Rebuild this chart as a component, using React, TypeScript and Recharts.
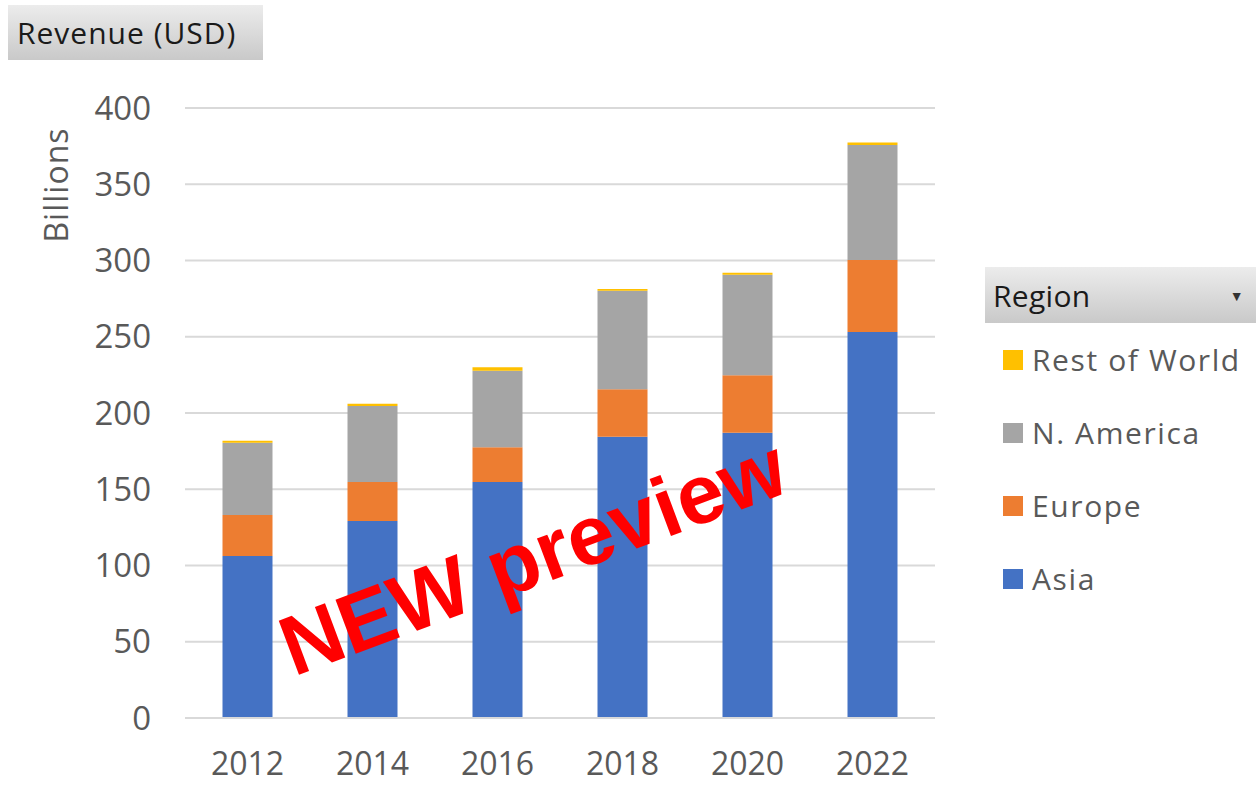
import React from 'react';
import { BarChart, Bar, XAxis, YAxis, CartesianGrid } from 'recharts';

const years = ['2012', '2014', '2016', '2018', '2020', '2022'];
const asia = [106.2, 129.2, 154.8, 184.5, 187, 253.1];
const europe = [26.9, 25.6, 22.7, 31, 37.7, 47.2];
const nAmerica = [47.4, 49.8, 50.2, 64.7, 66, 75.4];
const restOfWorld = [1.3, 1.5, 2.3, 1.1, 1.3, 1.6];
const yTicks = [0, 50, 100, 150, 200, 250, 300, 350, 400];

const series = [
	{ key: 'asia', name: 'Asia', color: '#4472C4' },
	{ key: 'europe', name: 'Europe', color: '#ED7D31' },
	{ key: 'nAmerica', name: 'N. America', color: '#A5A5A5' },
	{ key: 'restOfWorld', name: 'Rest of World', color: '#FFC000' },
];

const data = years.map((year, i) => ({
	year,
	asia: asia[i],
	europe: europe[i],
	nAmerica: nAmerica[i],
	restOfWorld: restOfWorld[i],
}));

const FONT = '"Open Sans", "Liberation Sans", sans-serif';
const headerBg = 'linear-gradient(to bottom, #ececec, #c9c9c9)';

// pivot-style legend: header button, then items top-down (stack order reversed)
function RegionLegend() {
	const items = [...series].reverse();
	return (
		<div style={{ position: 'absolute', left: 985, top: 267, width: 271, fontFamily: FONT }}>
			<div
				style={{
					height: 56,
					background: headerBg,
					display: 'flex',
					alignItems: 'center',
					justifyContent: 'space-between',
					padding: '0 12px 0 8px',
					fontSize: 30,
					letterSpacing: 0.3,
					color: '#1a1a1a',
				}}
			>
				<span>Region</span>
				<span style={{ fontSize: 14, color: '#333' }}>▼</span>
			</div>
			{items.map((s) => (
				<div
					key={s.key}
					style={{
						display: 'flex',
						alignItems: 'center',
						height: 73,
						paddingLeft: 18,
						fontSize: 30,
						letterSpacing: 1.6,
						color: '#595959',
						whiteSpace: 'nowrap',
					}}
				>
					<span style={{ width: 20, height: 20, background: s.color, marginRight: 9, display: 'inline-block' }} />
					{s.name}
				</div>
			))}
		</div>
	);
}

export default function App() {
	return (
		<div style={{ position: 'absolute', left: 0, top: 0, width: 1256, height: 785, background: '#fff', overflow: 'hidden' }}>
			<div
				style={{
					position: 'absolute',
					left: 8,
					top: 5,
					width: 255,
					height: 55,
					background: headerBg,
					fontFamily: FONT,
					fontSize: 30,
					letterSpacing: 1,
					color: '#1a1a1a',
					display: 'flex',
					alignItems: 'center',
					paddingLeft: 9,
					boxSizing: 'border-box',
					whiteSpace: 'nowrap',
				}}
			>
				Revenue (USD)
			</div>
			<BarChart
				width={1256}
				height={785}
				data={data}
				margin={{ top: 108, right: 321, left: 0, bottom: 0 }}
				barCategoryGap="30%"
				style={{ position: 'absolute', left: 0, top: 0, fontFamily: FONT }}
			>
				<CartesianGrid vertical={false} stroke="#d9d9d9" strokeWidth={2} />
				<XAxis
					dataKey="year"
					axisLine={{ stroke: '#d9d9d9', strokeWidth: 2 }}
					tickLine={false}
					tickSize={0}
					tickMargin={34}
					tick={{ fill: '#595959', fontSize: 32 }}
					height={67}
				/>
				<YAxis
					domain={[0, 400]}
					ticks={yTicks}
					axisLine={false}
					tickLine={false}
					tickSize={0}
					tickMargin={34}
					width={185}
					tick={{ fill: '#595959', fontSize: 33 }}
					label={{
						value: 'Billions',
						angle: -90,
						position: 'insideTopLeft',
						dx: 40,
						dy: 72,
						style: { fill: '#595959', fontSize: 32, letterSpacing: 1, textAnchor: 'middle' },
					}}
				/>
				{series.map((s) => (
					<Bar key={s.key} dataKey={s.key} name={s.name} stackId="r" fill={s.color} isAnimationActive={false} />
				))}
			</BarChart>
			<RegionLegend />
			<div
				style={{
					position: 'absolute',
					left: 533,
					top: 557,
					transform: 'translate(-50%, -50%) rotate(-20.5deg)',
					fontFamily: 'Arial, "Liberation Sans", sans-serif',
					fontWeight: 'bold',
					fontSize: 84,
					color: '#ff0000',
					whiteSpace: 'nowrap',
					pointerEvents: 'none',
				}}
			>
				NEW preview
			</div>
		</div>
	);
}
